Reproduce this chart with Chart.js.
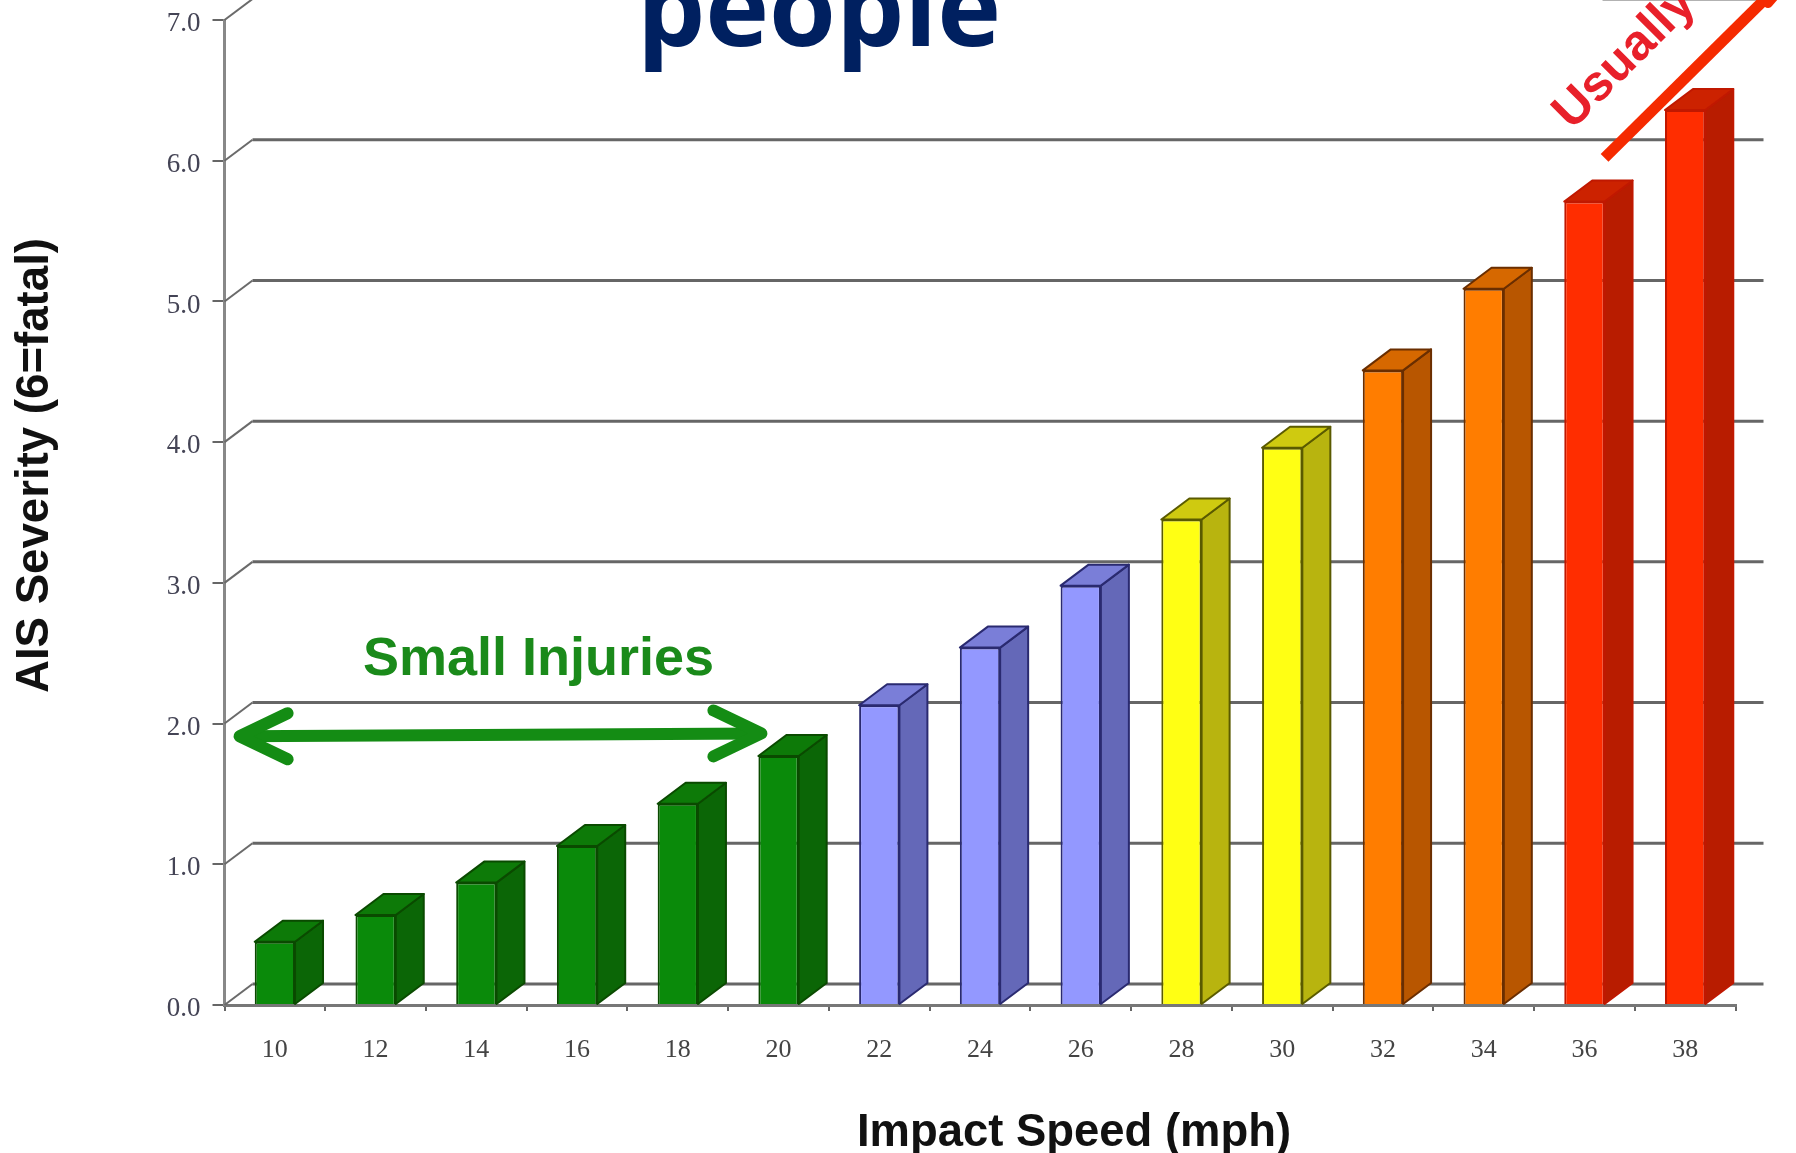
<!DOCTYPE html>
<html>
<head>
<meta charset="utf-8">
<style>
  html, body { margin: 0; padding: 0; background: #fff; overflow: hidden; }
  canvas { display: block; }
</style>
<script src="https://cdn.jsdelivr.net/npm/chart.js@4"></script>
</head>
<body>
<canvas id="chart" width="1796" height="1153"></canvas>
<script>
const speeds = ["10", "12", "14", "16", "18", "20", "22", "24", "26", "28", "30", "32", "34", "36", "38"];
const severity = [0.45, 0.64, 0.87, 1.13, 1.43, 1.77, 2.13, 2.54, 2.98, 3.45, 3.96, 4.51, 5.09, 5.71, 6.36];

const frontColors = ["#0a8a0a", "#0a8a0a", "#0a8a0a", "#0a8a0a", "#0a8a0a", "#0a8a0a", "#9398ff", "#9398ff", "#9398ff", "#ffff14", "#ffff14", "#ff7d00", "#ff7d00", "#ff2d00", "#ff2d00"];
const sideColors = ["#0b6606", "#0b6606", "#0b6606", "#0b6606", "#0b6606", "#0b6606", "#6468b8", "#6468b8", "#6468b8", "#b8b40f", "#b8b40f", "#b85600", "#b85600", "#b81c00", "#b81c00"];
const topColors = ["#0d7a08", "#0d7a08", "#0d7a08", "#0d7a08", "#0d7a08", "#0d7a08", "#7a7ed8", "#7a7ed8", "#7a7ed8", "#cfca10", "#cfca10", "#d66800", "#d66800", "#cc2200", "#cc2200"];
const edgeColors = ["#0a4a00", "#0a4a00", "#0a4a00", "#0a4a00", "#0a4a00", "#0a4a00", "#2a2a70", "#2a2a70", "#2a2a70", "#5a5a00", "#5a5a00", "#6a2e00", "#6a2e00", "#c01800", "#c01800"];

const depthX = 28;
const depthY = -21;

// the two annotation lines, in [category index, severity]
const arrowLeft = [-0.35, 1.91];
const arrowRight = [4.83, 1.93];
const redLineFrom = [13.2, 6.02];
const redLineTo = [14.88, 7.21];

function line(ctx, points, color, width, cap) {
    ctx.beginPath();
    ctx.moveTo(points[0][0], points[0][1]);
    for (let i = 1; i < points.length; i++) {
        ctx.lineTo(points[i][0], points[i][1]);
    }
    ctx.strokeStyle = color;
    ctx.lineWidth = width;
    ctx.lineCap = cap || "butt";
    ctx.lineJoin = "round";
    ctx.stroke();
}

function face(ctx, points, fill, edge) {
    ctx.beginPath();
    ctx.moveTo(points[0][0], points[0][1]);
    for (let i = 1; i < points.length; i++) {
        ctx.lineTo(points[i][0], points[i][1]);
    }
    ctx.closePath();
    ctx.fillStyle = fill;
    ctx.fill();
    ctx.strokeStyle = edge;
    ctx.lineWidth = 2;
    ctx.stroke();
}

function label(ctx, text, x, y, font, color, width, angle) {
    ctx.save();
    ctx.translate(x, y);
    ctx.rotate(angle || 0);
    ctx.font = font;
    ctx.fillStyle = color;
    ctx.textAlign = "left";
    ctx.textBaseline = "alphabetic";
    if (width) {
        ctx.fillText(text, 0, 0, width);
    } else {
        ctx.fillText(text, 0, 0);
    }
    ctx.restore();
}

// back wall lines of the 3D look
const wallPlugin = {
    id: "wall",
    beforeDatasetsDraw(chart) {
        const ctx = chart.ctx;
        const xs = chart.scales.x;
        const ys = chart.scales.y;
        ys.ticks.forEach((t) => {
            const y = ys.getPixelForValue(t.value);
            // top line only shows at the far right, the heading covers the rest
            const start = t.value === 7 ? xs.getPixelForValue(13.18) : xs.left + depthX;
            line(ctx, [[xs.left, y], [xs.left + depthX, y + depthY]], "#6a6a6a", 2);
            line(ctx, [[start, y + depthY], [xs.right + depthX, y + depthY]], "#666666", 3);
        });
    },
};

// side and top of each bar, taken from the bars the library laid out
const barPlugin = {
    id: "bars3d",
    afterDatasetsDraw(chart) {
        const ctx = chart.ctx;
        chart.getDatasetMeta(0).data.forEach((bar, i) => {
            const l = bar.x - bar.width / 2;
            const r = bar.x + bar.width / 2;
            face(ctx, [[r, bar.y], [r + depthX, bar.y + depthY], [r + depthX, bar.base + depthY], [r, bar.base]], sideColors[i], edgeColors[i]);
            face(ctx, [[l, bar.y], [l + depthX, bar.y + depthY], [r + depthX, bar.y + depthY], [r, bar.y]], topColors[i], edgeColors[i]);
        });
    },
};

const notesPlugin = {
    id: "notes",
    afterDraw(chart) {
        const ctx = chart.ctx;
        const xs = chart.scales.x;
        const ys = chart.scales.y;
        const px = (p) => [xs.getPixelForValue(p[0]), ys.getPixelForValue(p[1])];

        label(ctx, "people", 637, 46, "bold 108px 'Open Sans'", "#002060", 364);
        label(ctx, "Impact Speed (mph)", 857, 1146, "bold 46px 'Liberation Sans'", "#111111", 434);
        label(ctx, "AIS Severity (6=fatal)", 48, 693, "bold 46px 'Liberation Sans'", "#111111", 455, -Math.PI / 2);
        label(ctx, "Small Injuries", 363, 675, "bold 54px 'Liberation Sans'", "#1a8a1a", 354);
        label(ctx, "Usually", 1572, 131, "bold 50px 'Liberation Sans'", "#e8202a", null, -Math.PI / 4);

        const a = px(arrowLeft);
        const b = px(arrowRight);
        line(ctx, [a, b], "#148c14", 12);
        line(ctx, [[a[0] + 48, a[1] - 23], a, [a[0] + 48, a[1] + 23]], "#148c14", 12, "round");
        line(ctx, [[b[0] - 48, b[1] - 23], b, [b[0] - 48, b[1] + 23]], "#148c14", 12, "round");

        line(ctx, [px(redLineFrom), px(redLineTo)], "#f52a00", 11);
        line(ctx, [[1768, 3], [1774, -4]], "#f52a00", 10, "round");
    },
};

new Chart(document.getElementById("chart"), {
    type: "bar",
    data: {
        labels: speeds,
        datasets: [{
            data: severity,
            backgroundColor: frontColors,
            borderColor: edgeColors,
            borderWidth: 2,
            barPercentage: 0.4,
            categoryPercentage: 1,
        }],
    },
    plugins: [wallPlugin, barPlugin, notesPlugin],
    options: {
        responsive: false,
        animation: false,
        layout: {
            autoPadding: false,
            padding: { top: 20, right: 60.5, left: 0, bottom: 0 },
        },
        plugins: {
            legend: { display: false },
            tooltip: { enabled: false },
        },
        scales: {
            x: {
                afterFit(scale) {
                    scale.height = 148;
                    scale.paddingLeft = 0;
                    scale.paddingRight = 0;
                },
                grid: { drawOnChartArea: false, color: "#666666", tickLength: 6, lineWidth: 2 },
                border: { color: "#777777", width: 3 },
                ticks: {
                    color: "#444444",
                    padding: 24,
                    maxRotation: 0,
                    font: { family: "'Liberation Serif'", size: 26 },
                },
            },
            y: {
                min: 0,
                max: 7,
                afterFit(scale) {
                    scale.width = 224.5;
                    scale.paddingTop = 0;
                    scale.paddingBottom = 0;
                },
                grid: { drawOnChartArea: false, color: "#666666", tickLength: 12, lineWidth: 2 },
                border: { color: "#888888", width: 3 },
                ticks: {
                    stepSize: 1,
                    color: "#444455",
                    padding: 12,
                    labelOffset: 4,
                    font: { family: "'Liberation Serif'", size: 27 },
                    callback: (v) => v.toFixed(1),
                },
            },
        },
    },
});
</script>
</body>
</html>
